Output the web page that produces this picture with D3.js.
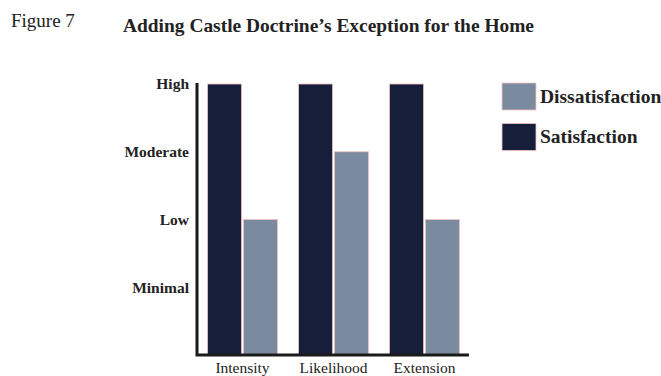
<!DOCTYPE html>
<html>
<head>
<meta charset="utf-8">
<script src="https://cdn.jsdelivr.net/npm/d3@7/dist/d3.min.js"></script>
<style>
  html, body { margin: 0; padding: 0; background: #ffffff; }
  svg { display: block; }
  text { font-family: "Liberation Serif", "Times New Roman", serif; fill: #222; }
</style>
</head>
<body>
<svg id="chart" width="661" height="376"></svg>
<script>
// Measures compared across the three components
const categories = ["Intensity", "Likelihood", "Extension"];
const seriesNames = ["Satisfaction", "Dissatisfaction"];
// Ordinal levels: 1 = Minimal, 2 = Low, 3 = Moderate, 4 = High
const satisfaction = [4, 4, 4];
const dissatisfaction = [2, 3, 2];
const levelValues = [1, 2, 3, 4];
const levelLabels = ["Minimal", "Low", "Moderate", "High"];
const legendOrder = ["Dissatisfaction", "Satisfaction"];

const colors = { Satisfaction: "#161e3a", Dissatisfaction: "#7b8b9f" };
const seriesData = { Satisfaction: satisfaction, Dissatisfaction: dissatisfaction };

const svg = d3.select("#chart");

// Headings
svg.append("text")
  .attr("x", 11).attr("y", 27)
  .style("font-size", "19px")
  .text("Figure 7");

svg.append("text")
  .attr("x", 123).attr("y", 32)
  .style("font-size", "19px")
  .style("font-weight", "bold")
  .attr("textLength", 411)
  .attr("lengthAdjust", "spacingAndGlyphs")
  .text("Adding Castle Doctrine\u2019s Exception for the Home");

// Scales
const x0 = d3.scaleBand()
  .domain(categories)
  .range([197, 470])
  .paddingInner(0.23)
  .paddingOuter(0.115);

const x1 = d3.scaleBand()
  .domain(seriesNames)
  .range([0, x0.bandwidth()])
  .paddingInner(0.05);

const y = d3.scaleLinear()
  .domain([0, 4])
  .range([355, 84]);

// Bars
const groups = svg.append("g")
  .selectAll("g")
  .data(categories)
  .join("g")
  .attr("transform", d => `translate(${x0(d)},0)`);

groups.selectAll("rect")
  .data((c, i) => seriesNames.map(s => ({ s, v: seriesData[s][i] })))
  .join("rect")
  .attr("x", d => x1(d.s))
  .attr("y", d => y(d.v))
  .attr("width", x1.bandwidth())
  .attr("height", d => y(0) - y(d.v))
  .attr("fill", d => colors[d.s])
  .attr("stroke", "#f2c4c0")
  .attr("stroke-width", 0.8);

// Y axis with ordinal level labels
const yAxis = d3.axisLeft(y)
  .tickValues(levelValues)
  .tickFormat((d, i) => levelLabels[i])
  .tickSize(0)
  .tickPadding(8);

const gy = svg.append("g")
  .attr("transform", "translate(197,0)")
  .call(yAxis);
gy.select(".domain").remove();
gy.selectAll("text")
  .style("font-family", "'Liberation Serif', serif")
  .style("font-size", "15.5px")
  .style("font-weight", "bold")
  .attr("fill", "#222");

// X axis with category labels
const xAxis = d3.axisBottom(x0).tickSize(0).tickPadding(7);
const gx = svg.append("g")
  .attr("transform", "translate(0,355)")
  .call(xAxis);
gx.select(".domain").remove();
gx.selectAll("text")
  .style("font-family", "'Liberation Serif', serif")
  .style("font-size", "15.5px")
  .attr("fill", "#222");

// Axis frame lines
svg.append("path")
  .attr("d", `M197,${y(4) - 1}V${y(0)}H469`)
  .attr("fill", "none")
  .attr("stroke", "#1a1a1a")
  .attr("stroke-width", 3);

// Legend
const legend = svg.append("g")
  .selectAll("g")
  .data(legendOrder)
  .join("g")
  .attr("transform", (d, i) => `translate(502,${83 + i * 40.5})`);

legend.append("rect")
  .attr("width", 34)
  .attr("height", 27)
  .attr("fill", d => colors[d])
  .attr("stroke", "#f2c4c0")
  .attr("stroke-width", 0.8);

legend.append("text")
  .attr("x", 38)
  .attr("y", 19.5)
  .style("font-size", "19.5px")
  .style("font-weight", "bold")
  .text(d => d);
</script>
</body>
</html>
